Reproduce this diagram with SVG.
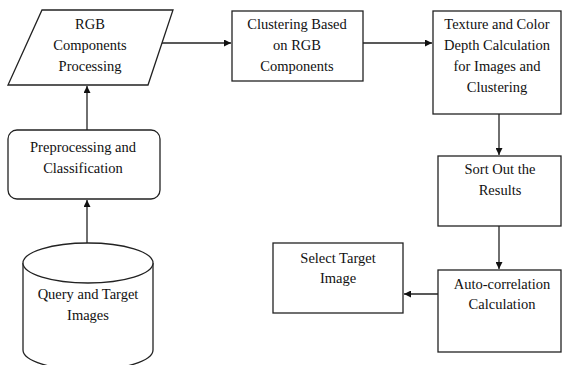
<svg xmlns="http://www.w3.org/2000/svg" width="563" height="365" viewBox="0 0 563 365" font-family="Liberation Serif, DejaVu Serif, serif" font-size="14.5">
  <style>
    .shape { fill: #fff; stroke: #222; stroke-width: 1.3; }
    .edge { fill: none; stroke: #222; stroke-width: 1.3; marker-end: url(#arrow); }
    .lbl { fill: #111; text-anchor: middle; }
  </style>
  <defs>
    <marker id="arrow" viewBox="0 0 10 10" refX="10" refY="5" markerWidth="7" markerHeight="7" markerUnits="userSpaceOnUse" orient="auto">
      <path d="M0,0 L10,5 L0,10 Z" fill="#111"/>
    </marker>
  </defs>
  <rect width="563" height="365" fill="#fff"/>

  <g id="connectors">
    <line class="edge" x1="87" y1="243" x2="87" y2="200"/>
    <line class="edge" x1="87" y1="130" x2="87" y2="86"/>
    <line class="edge" x1="161" y1="43" x2="231" y2="43"/>
    <line class="edge" x1="363" y1="43" x2="432" y2="43"/>
    <line class="edge" x1="499" y1="114" x2="499" y2="155"/>
    <line class="edge" x1="499" y1="226" x2="499" y2="269"/>
    <line class="edge" x1="438" y1="294" x2="404" y2="294"/>
  </g>

  <g id="rgb-processing">
    <polygon class="shape" points="42,10 173,10 148,85 8,85"/>
    <text class="lbl" x="90" y="29">RGB</text>
    <text class="lbl" x="90" y="50">Components</text>
    <text class="lbl" x="90" y="71">Processing</text>
  </g>

  <g id="clustering">
    <rect class="shape" x="232" y="11" width="131" height="70"/>
    <text class="lbl" x="297" y="29">Clustering Based</text>
    <text class="lbl" x="297" y="50">on RGB</text>
    <text class="lbl" x="297" y="71">Components</text>
  </g>

  <g id="texture-color">
    <rect class="shape" x="433" y="11" width="128" height="103"/>
    <text class="lbl" x="497" y="29">Texture and Color</text>
    <text class="lbl" x="497" y="50">Depth Calculation</text>
    <text class="lbl" x="497" y="71">for Images and</text>
    <text class="lbl" x="497" y="92">Clustering</text>
  </g>

  <g id="sort-results">
    <rect class="shape" x="438" y="156" width="123" height="70"/>
    <text class="lbl" x="500" y="174">Sort Out the</text>
    <text class="lbl" x="500" y="195">Results</text>
  </g>

  <g id="auto-correlation">
    <rect class="shape" x="438" y="270" width="123" height="82"/>
    <text class="lbl" x="502" y="289">Auto-correlation</text>
    <text class="lbl" x="502" y="309">Calculation</text>
  </g>

  <g id="select-target">
    <rect class="shape" x="273" y="243" width="130" height="70"/>
    <text class="lbl" x="338" y="263">Select Target</text>
    <text class="lbl" x="338" y="283">Image</text>
  </g>

  <g id="preprocessing">
    <rect class="shape" x="8" y="130" width="152" height="69" rx="9" ry="9"/>
    <text class="lbl" x="83" y="152">Preprocessing and</text>
    <text class="lbl" x="83" y="173">Classification</text>
  </g>

  <g id="image-store">
    <path class="shape" d="M23,263 L23,350 A65,20 0 0 0 153,350 L153,263 A65,20 0 0 0 23,263 Z"/>
    <path class="shape" d="M23,263 A65,20 0 0 0 153,263" fill="none"/>
    <text class="lbl" x="88" y="299">Query and Target</text>
    <text class="lbl" x="88" y="320">Images</text>
  </g>
</svg>
